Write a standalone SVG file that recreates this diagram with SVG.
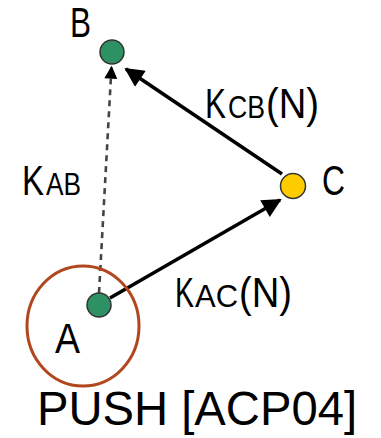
<svg xmlns="http://www.w3.org/2000/svg" width="381" height="438" viewBox="0 0 381 438">
<style>
.t{font-family:"Liberation Sans",Arial,sans-serif;fill:#000}
.big{font-size:42px}
.sub{font-size:31px}
.node{stroke:#333;stroke-width:1.5}
.arrow{stroke:#000;stroke-width:3.5;fill:none}
</style>
<defs>
<marker id="ah" viewBox="0 0 10 10" refX="9" refY="5" markerWidth="6" markerHeight="5.5" markerUnits="strokeWidth" orient="auto">
<path d="M0,0 L10,5 L0,10 z" fill="#000"/>
</marker>
<marker id="ahd" viewBox="0 0 10 10" refX="9" refY="5" markerWidth="6" markerHeight="5" markerUnits="strokeWidth" orient="auto">
<path d="M0,0 L10,5 L0,10 z" fill="#000"/>
</marker>
</defs>
<rect width="381" height="438" fill="#fff"/>
<g id="connectors">
<line x1="99" y1="293" x2="111.5" y2="67" stroke="#444" stroke-width="2.6" stroke-dasharray="6,5" marker-end="url(#ahd)"/>
<line class="arrow" x1="282" y1="174" x2="126" y2="69" marker-end="url(#ah)"/>
<line class="arrow" x1="110" y1="298" x2="280" y2="200" marker-end="url(#ah)"/>
</g>
<g id="regionA">
<ellipse cx="83" cy="326" rx="56" ry="60" fill="none" stroke="#b0471e" stroke-width="3"/>
</g>
<g id="nodeB">
<circle class="node" cx="112" cy="52" r="12" fill="#2e9163"/>
<text class="t big" x="70" y="37" textLength="21" lengthAdjust="spacingAndGlyphs">B</text>
</g>
<g id="nodeC">
<circle class="node" cx="293" cy="186" r="12.5" fill="#ffcc00" stroke="#6b4a1a"/>
<text class="t big" x="322" y="195" textLength="23" lengthAdjust="spacingAndGlyphs">C</text>
</g>
<g id="nodeA">
<circle class="node" cx="99" cy="305" r="12" fill="#2e9163"/>
<text class="t big" x="55" y="353" textLength="25" lengthAdjust="spacingAndGlyphs">A</text>
</g>
<g id="labels">
<text class="t" y="195"><tspan class="big" x="22" textLength="22" lengthAdjust="spacingAndGlyphs">K</tspan><tspan class="sub" x="46" textLength="35" lengthAdjust="spacingAndGlyphs">AB</tspan></text>
<text class="t" y="118"><tspan class="big" x="205" textLength="21" lengthAdjust="spacingAndGlyphs">K</tspan><tspan class="sub" x="228" textLength="37" lengthAdjust="spacingAndGlyphs">CB</tspan><tspan class="big" x="266" textLength="53" lengthAdjust="spacingAndGlyphs">(N)</tspan></text>
<text class="t" y="307"><tspan class="big" x="175" textLength="19" lengthAdjust="spacingAndGlyphs">K</tspan><tspan class="sub" x="195" textLength="43" lengthAdjust="spacingAndGlyphs">AC</tspan><tspan class="big" x="239" textLength="53" lengthAdjust="spacingAndGlyphs">(N)</tspan></text>
<text class="t" x="37" y="425" font-size="48" textLength="320" lengthAdjust="spacingAndGlyphs">PUSH [ACP04]</text>
</g>
</svg>
